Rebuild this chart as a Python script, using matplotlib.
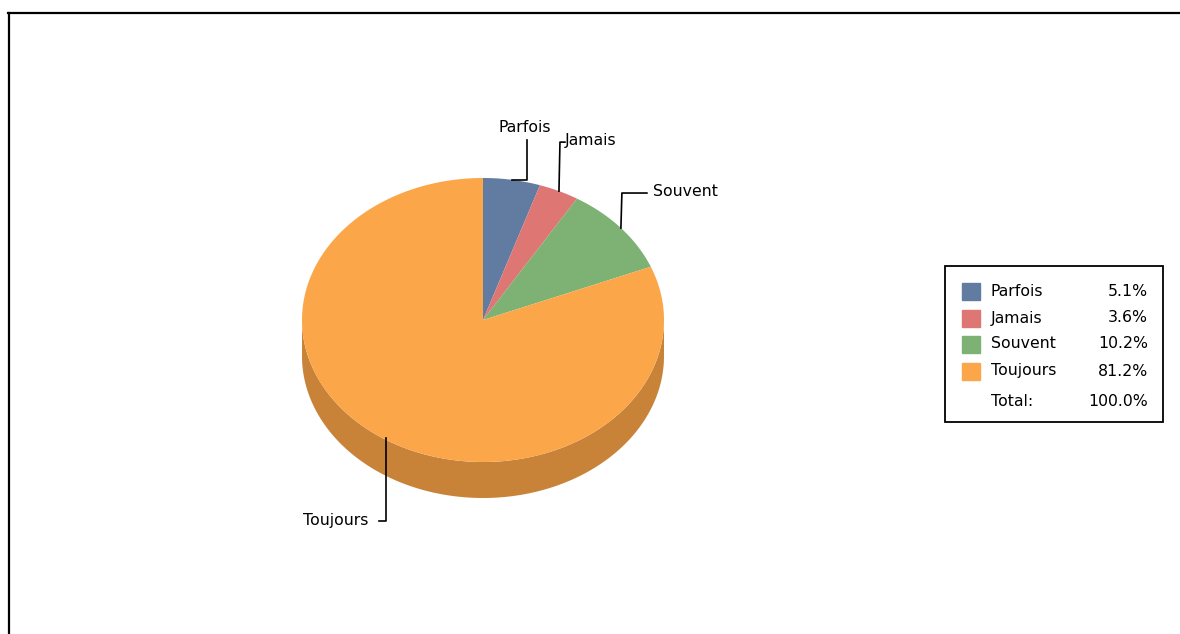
import numpy as np
import matplotlib.pyplot as plt
from matplotlib.patches import Rectangle

# Data
labels = ['Parfois', 'Jamais', 'Souvent', 'Toujours']
pcts = [5.1, 3.6, 10.2, 81.2]
total_label = '100.0%'
colors = ['#627BA1', '#DE7774', '#7DB274', '#FCA64A']
side_colors = ['#4C5F7E', '#AD5D5A', '#61895A', '#C88338']

plt.rcParams['font.family'] = ['DejaVu Sans']
fs = 11.3

fig = plt.figure(figsize=(11.8, 6.34), dpi=100)
ax = fig.add_axes([0, 0, 1, 1])
ax.set_xlim(0, 1180)
ax.set_ylim(634, 0)
ax.axis('off')

# pie geometry (pixels)
cx, cy = 483, 320
rx, ry = 181, 142
depth = 36


def ell(t):
    t = np.radians(t)
    return cx + rx * np.sin(t), cy - ry * np.cos(t)


fr = np.array(pcts) / sum(pcts)
edges = np.concatenate([[0], np.cumsum(fr) * 360])

# side (front half only: 90..270 deg)
for i in range(len(pcts)):
    a0, a1 = max(edges[i], 90), min(edges[i + 1], 270)
    if a1 <= a0:
        continue
    t = np.linspace(a0, a1, 200)
    x, y = ell(t)
    px = np.concatenate([x, x[::-1]])
    py = np.concatenate([y, y[::-1] + depth])
    ax.fill(px, py, color=side_colors[i], lw=0, zorder=1)

# top
for i in range(len(pcts)):
    t = np.linspace(edges[i], edges[i + 1], 300)
    x, y = ell(t)
    ax.fill(np.concatenate([[cx], x]), np.concatenate([[cy], y]),
            color=colors[i], lw=0, zorder=2)

# labels with elbow leaders: (path offsets from anchor, text pos, ha)
leaders = [
    ([(15, 0), (15, -40)], (525, 127), 'center'),
    ([(1, -49), (6, -49)], (565, 141), 'left'),
    ([(1, -35), (26, -35)], (653, 192), 'left'),
    ([(0, 83), (-7, 83)], (368, 520), 'right'),
]
for i, (path, (tx, ty), ha) in enumerate(leaders):
    mid = (edges[i] + edges[i + 1]) / 2
    axp, ayp = ell(mid)
    if i == 3:
        axp += 4
    xs = [axp] + [axp + dx for dx, dy in path]
    ys = [ayp] + [ayp + dy for dx, dy in path]
    ax.plot(xs, ys, color='black', lw=1.2, zorder=3)
    ax.text(tx, ty, labels[i], ha=ha, va='center', fontsize=fs, zorder=3)

# legend
ax.add_patch(Rectangle((945, 266), 218, 156, fill=False, ec='black', lw=1.3, zorder=3))
row_y = [291, 318, 344, 371]
for i in range(len(pcts)):
    ax.add_patch(Rectangle((962, row_y[i] - 8), 18, 17, color=colors[i], zorder=3))
    ax.text(991, row_y[i], labels[i], ha='left', va='center', fontsize=fs)
    ax.text(1148, row_y[i], f'{pcts[i]:.1f}%', ha='right', va='center', fontsize=fs)
ax.text(991, 402, 'Total:', ha='left', va='center', fontsize=fs)
ax.text(1148, 402, total_label, ha='right', va='center', fontsize=fs)

# outer frame (top and left)
ax.plot([8, 1180], [13, 13], color='black', lw=1.6)
ax.plot([9, 9], [13, 634], color='black', lw=1.6)

fig.savefig('out.png', dpi=100)
